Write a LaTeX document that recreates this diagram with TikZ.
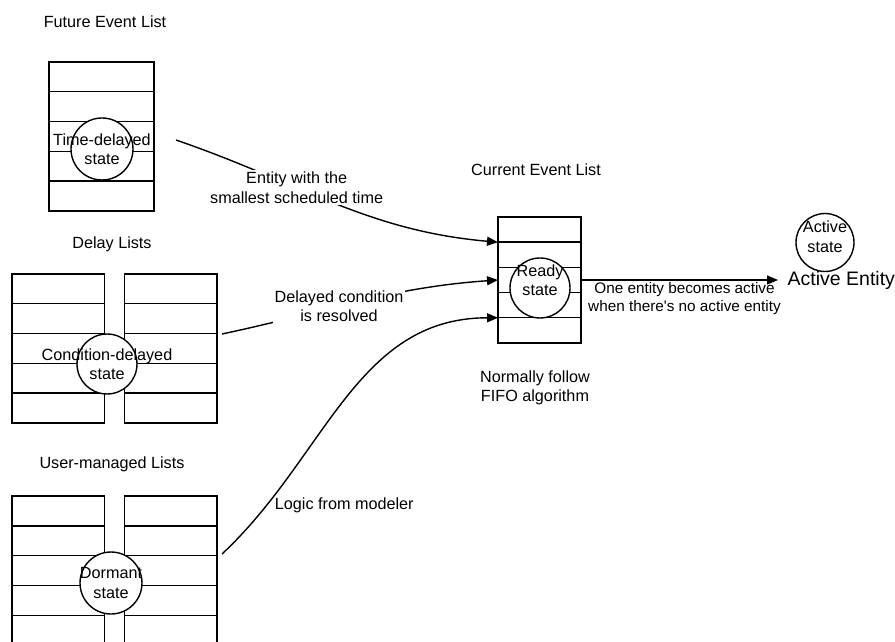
\documentclass[tikz,border=0pt]{standalone}
\usepackage{fontspec}
\setmainfont{Liberation Sans}
\usetikzlibrary{arrows.meta}

\begin{document}
\begin{tikzpicture}[x=1pt, y=1pt, line width=1.4pt,
    font=\fontsize{16.2}{19.5}\selectfont,
    slot/.style ={rectangle, draw, inner sep=0pt, outer sep=0pt, minimum width=#1, minimum height=29.8pt},
    cslot/.style ={rectangle, draw, inner sep=0pt, outer sep=0pt, minimum width=83pt, minimum height=25.2pt},
    entity/.style ={circle, draw, fill=white, inner sep=0pt, minimum size=#1},
    flow/.style ={-{Triangle[length=11pt, width=9pt]}},
    tag/.style ={fill=white, inner sep=2pt, align=center}]
   \useasboundingbox (0,0) rectangle (895,641);

   % titles
   \node (felt) at (105,619) {Future Event List};
   \node (dlt)  at (112,397) {Delay Lists};
   \node (ult)  at (112,177) {User-managed Lists};
   \node (celt) at (536,471) {Current Event List};
   \node[align=center] (celn) at (535,253) {Normally follow\\FIFO algorithm};

   % future event list
   \node[slot=105pt] (fel1) at (101.5,564.1) {};
   \node[slot=105pt] (fel2) at (101.5,534.3) {};
   \node[slot=105pt] (fel3) at (101.5,504.5) {};
   \node[slot=105pt] (fel4) at (101.5,474.7) {};
   \node[slot=105pt] (fel5) at (101.5,444.9) {};

   % delay lists
   \node[slot=92.5pt] (dla1) at (58.25,352.1) {};
   \node[slot=92.5pt] (dla2) at (58.25,322.3) {};
   \node[slot=92.5pt] (dla3) at (58.25,292.5) {};
   \node[slot=92.5pt] (dla4) at (58.25,262.7) {};
   \node[slot=92.5pt] (dla5) at (58.25,232.9) {};
   \node[slot=92.5pt] (dlb1) at (170.75,352.1) {};
   \node[slot=92.5pt] (dlb2) at (170.75,322.3) {};
   \node[slot=92.5pt] (dlb3) at (170.75,292.5) {};
   \node[slot=92.5pt] (dlb4) at (170.75,262.7) {};
   \node[slot=92.5pt] (dlb5) at (170.75,232.9) {};

   % user-managed lists
   \node[slot=92.5pt] (ula1) at (58.25,130.1) {};
   \node[slot=92.5pt] (ula2) at (58.25,100.3) {};
   \node[slot=92.5pt] (ula3) at (58.25,70.5) {};
   \node[slot=92.5pt] (ula4) at (58.25,40.7) {};
   \node[slot=92.5pt] (ula5) at (58.25,10.9) {};
   \node[slot=92.5pt] (ulb1) at (170.75,130.1) {};
   \node[slot=92.5pt] (ulb2) at (170.75,100.3) {};
   \node[slot=92.5pt] (ulb3) at (170.75,70.5) {};
   \node[slot=92.5pt] (ulb4) at (170.75,40.7) {};
   \node[slot=92.5pt] (ulb5) at (170.75,10.9) {};

   % current event list
   \node[cslot] (cel1) at (539.5,411.4) {};
   \node[cslot] (cel2) at (539.5,386.2) {};
   \node[cslot] (cel3) at (539.5,361) {};
   \node[cslot] (cel4) at (539.5,335.8) {};
   \node[cslot] (cel5) at (539.5,310.6) {};

   % states
   \node[entity=62pt] (td) [label={[align=center]center:Time-delayed\\state}] at (102,492) {};
   \node[entity=60pt] (cd) [label={[align=center]center:Condition-delayed\\state}] at (107,277) {};
   \node[entity=62pt] (dm) [label={[align=center]center:Dormant\\state}] at (111,58) {};
   \node[entity=60pt] (rd) [label={[align=center,yshift=8pt]center:Ready\\state}] at (540,353) {};
   \node[entity=58pt] (ac) [label={[align=center,yshift=6pt]center:Active\\state}] at (825,398.5) {};
   \node[font=\fontsize{19.5}{23}\selectfont, anchor=west, inner xsep=9pt] (act) at (778,361) {Active Entity};

   \coordinate (tdout) at (176,501);
   \coordinate (cdout) at (222,307);
   \coordinate (dmout) at (222,87);

   \draw[flow] (tdout) to[out=-19, in=175] node[tag, pos=0.37] (lbl1) {Entity with the\\smallest scheduled time} (cel1.south west);
   \draw[flow] (cdout) to[out=12, in=184] node[tag, pos=0.42] (lbl2) {Delayed condition\\is resolved} (cel3.west);
   \draw[flow] (dmout) to[out=43, in=180] node[pos=0.16, anchor=west, xshift=4pt] (lbl3) {Logic from modeler} (cel4.south west);
   \draw[flow] (cel3.east) -- node[below, align=center, inner sep=2pt, xshift=5pt, font=\fontsize{15.3}{17.5}\selectfont] (lbl4) {One entity becomes active\\when there\textquotesingle s no active entity} (act.west);
 \end{tikzpicture}
\end{document}
